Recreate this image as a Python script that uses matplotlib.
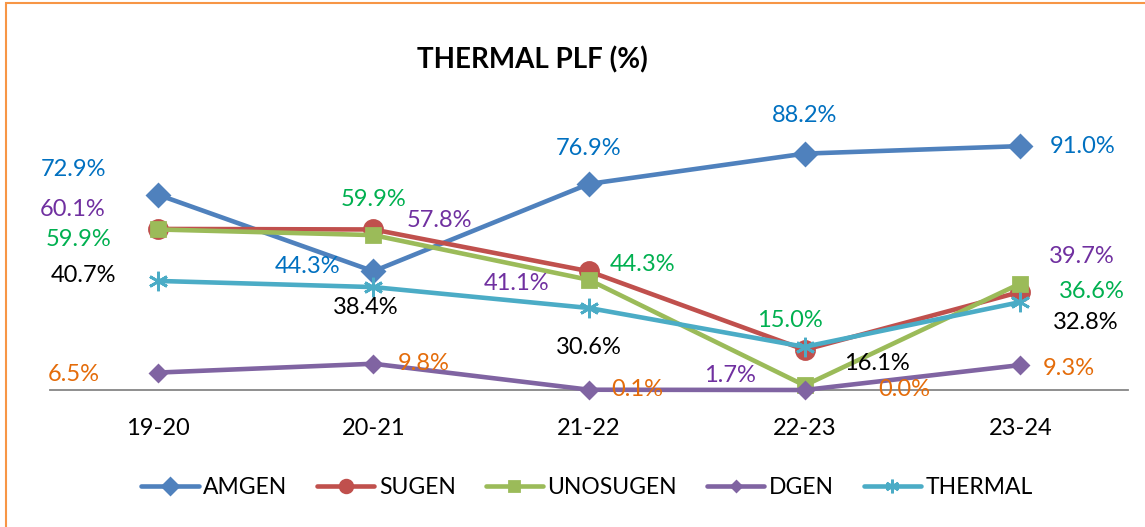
import matplotlib.pyplot as plt
from matplotlib.patches import Rectangle

plt.rcParams['font.family'] = ['Lato', 'DejaVu Sans']

years = ['19-20', '20-21', '21-22', '22-23', '23-24']

amgen = [72.9, 44.3, 76.9, 88.2, 91.0]
sugen = [60.1, 59.9, 44.3, 15.0, 36.6]
unosugen = [59.9, 57.8, 41.1, 1.7, 39.7]
dgen = [6.5, 9.8, 0.1, 0.0, 9.3]
thermal = [40.7, 38.4, 30.6, 16.1, 32.8]

BLUE, PURPLE, GREEN, ORANGE, BLACK = '#0070C0', '#7030A0', '#00B050', '#E46C0A', '#000000'

# name, values, line colour, marker, marker size, label colours, label offsets (px)
series = [
    ('AMGEN', amgen, '#4F81BD', 'D', 11, [BLUE] * 5,
     [(-84, 25), (-66, 5), (0, 35), (0, 38), (62, 0)]),
    ('SUGEN', sugen, '#C0504D', 'o', 13, [PURPLE, GREEN, GREEN, GREEN, GREEN],
     [(-85, 19), (0, 30), (54, 7), (-15, 29), (72, 0)]),
    ('UNOSUGEN', unosugen, '#9BBB59', 's', 10, [GREEN, PURPLE, PURPLE, PURPLE, PURPLE],
     [(-79, -10), (66, 15), (-72, -4), (-75, 10), (62, 27)]),
    ('DGEN', dgen, '#8064A2', 'D', 8, [ORANGE] * 5,
     [(-84, -2), (50, 0), (48, 0), (100, 0), (49, -3)]),
    ('THERMAL', thermal, '#4BACC6', (6, 2, 0), 14, [BLACK] * 5,
     [(-74, 5), (-8, -20), (0, -40), (72, -17), (66, -20)]),
]

fig = plt.figure(figsize=(11.45, 5.27), dpi=100)
ax = fig.add_axes([50 / 1145, 137 / 527, 1078 / 1145, 268 / 527])

x = range(len(years))
for name, vals, color, marker, ms, lcolors, offsets in series:
    ax.plot(x, vals, color=color, lw=3.3, marker=marker, ms=ms,
            mec=color, mfc=color, mew=2, label=name, clip_on=False,
            solid_capstyle='round')
    for i, v in enumerate(vals):
        ax.annotate(f'{v:.1f}%', (i, v), xytext=offsets[i], textcoords='offset pixels',
                    ha='center', va='center', fontsize=17, color=lcolors[i])

ax.set_xlim(-0.5, 4.5)
ax.set_ylim(0, 100)
ax.set_xticks(list(x))
ax.set_xticklabels(years, fontsize=17)
ax.tick_params(axis='x', length=0, pad=20)
ax.set_yticks([])
for side in ['top', 'right', 'left']:
    ax.spines[side].set_visible(False)
ax.spines['bottom'].set_color('#868686')
ax.spines['bottom'].set_linewidth(1.3)
ax.spines['bottom'].set_zorder(0)

fig.text(532 / 1145, 1 - 60 / 527, 'THERMAL PLF (%)', ha='center', va='center',
         fontsize=20, fontweight='bold')

fig.legend(loc='center', bbox_to_anchor=(587 / 1145, 39 / 527), ncol=5, frameon=False,
           fontsize=16.5, handlelength=2.5, columnspacing=1.3, handletextpad=0.2,
           markerscale=0.7)

# outer chart border
fig.patches.append(Rectangle((6 / 1145, -0.05), 1.1, 1 - 3 / 527 + 0.05, transform=fig.transFigure,
                             fill=False, edgecolor='#F79646', lw=1.5))

fig.savefig('out.png', dpi=100)
